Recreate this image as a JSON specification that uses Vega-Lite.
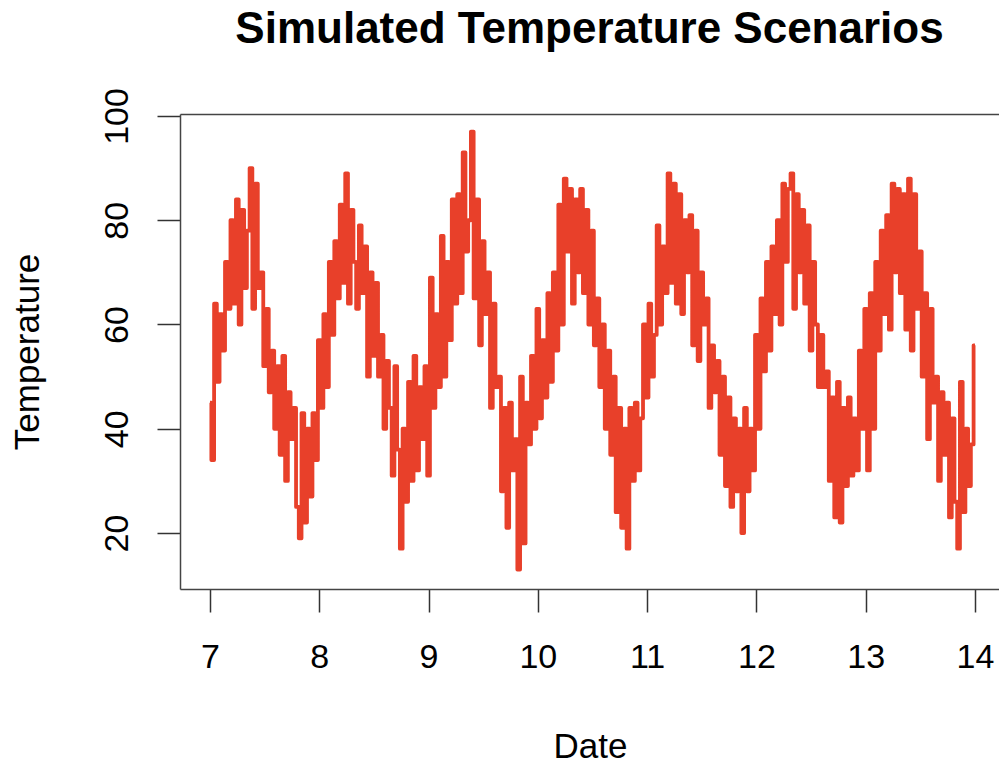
{
  "$schema": "https://vega.github.io/schema/vega-lite/v6.json",
  "width": 819,
  "height": 475,
  "autosize": {"type": "none"},
  "padding": {"left": 180, "top": 114, "right": 0, "bottom": 174},
  "background": "white",
  "config": {"view": {"stroke": null}, "font": "Liberation Sans"},
  "title": {"text": "Simulated Temperature Scenarios", "font": "Liberation Sans", "fontSize": 44, "fontWeight": "bold", "color": "black", "anchor": "middle", "baseline": "alphabetic", "offset": 1},
  "data": {"values": [
    {"date": 7.000, "temp": 45}, {"date": 7.025, "temp": 34}, {"date": 7.050, "temp": 64}, {"date": 7.075, "temp": 49},
    {"date": 7.100, "temp": 62}, {"date": 7.125, "temp": 55}, {"date": 7.150, "temp": 72}, {"date": 7.175, "temp": 63},
    {"date": 7.200, "temp": 80}, {"date": 7.225, "temp": 64}, {"date": 7.250, "temp": 84}, {"date": 7.275, "temp": 60},
    {"date": 7.300, "temp": 82}, {"date": 7.325, "temp": 67}, {"date": 7.350, "temp": 78}, {"date": 7.375, "temp": 90},
    {"date": 7.400, "temp": 63}, {"date": 7.425, "temp": 87}, {"date": 7.450, "temp": 67}, {"date": 7.475, "temp": 70},
    {"date": 7.500, "temp": 52}, {"date": 7.525, "temp": 63}, {"date": 7.550, "temp": 47}, {"date": 7.575, "temp": 55},
    {"date": 7.600, "temp": 40}, {"date": 7.625, "temp": 52}, {"date": 7.650, "temp": 35}, {"date": 7.675, "temp": 54},
    {"date": 7.700, "temp": 30}, {"date": 7.725, "temp": 47}, {"date": 7.750, "temp": 38}, {"date": 7.775, "temp": 44},
    {"date": 7.800, "temp": 25}, {"date": 7.825, "temp": 19}, {"date": 7.850, "temp": 43}, {"date": 7.875, "temp": 22},
    {"date": 7.900, "temp": 40}, {"date": 7.925, "temp": 27}, {"date": 7.950, "temp": 43}, {"date": 7.975, "temp": 34},
    {"date": 8.000, "temp": 57}, {"date": 8.025, "temp": 44}, {"date": 8.050, "temp": 62}, {"date": 8.075, "temp": 48},
    {"date": 8.100, "temp": 72}, {"date": 8.125, "temp": 58}, {"date": 8.150, "temp": 76}, {"date": 8.175, "temp": 65},
    {"date": 8.200, "temp": 83}, {"date": 8.225, "temp": 68}, {"date": 8.250, "temp": 89}, {"date": 8.275, "temp": 64},
    {"date": 8.300, "temp": 82}, {"date": 8.325, "temp": 72}, {"date": 8.350, "temp": 63}, {"date": 8.375, "temp": 79},
    {"date": 8.400, "temp": 66}, {"date": 8.425, "temp": 75}, {"date": 8.450, "temp": 50}, {"date": 8.475, "temp": 70},
    {"date": 8.500, "temp": 54}, {"date": 8.525, "temp": 68}, {"date": 8.550, "temp": 50}, {"date": 8.575, "temp": 58},
    {"date": 8.600, "temp": 40}, {"date": 8.625, "temp": 53}, {"date": 8.650, "temp": 44}, {"date": 8.675, "temp": 31},
    {"date": 8.700, "temp": 52}, {"date": 8.725, "temp": 36}, {"date": 8.750, "temp": 17}, {"date": 8.775, "temp": 40},
    {"date": 8.800, "temp": 26}, {"date": 8.825, "temp": 49}, {"date": 8.850, "temp": 30}, {"date": 8.875, "temp": 54},
    {"date": 8.900, "temp": 32}, {"date": 8.925, "temp": 48}, {"date": 8.950, "temp": 38}, {"date": 8.975, "temp": 52},
    {"date": 9.000, "temp": 31}, {"date": 9.025, "temp": 69}, {"date": 9.050, "temp": 44}, {"date": 9.075, "temp": 62},
    {"date": 9.100, "temp": 48}, {"date": 9.125, "temp": 77}, {"date": 9.150, "temp": 50}, {"date": 9.175, "temp": 72},
    {"date": 9.200, "temp": 57}, {"date": 9.225, "temp": 84}, {"date": 9.250, "temp": 64}, {"date": 9.275, "temp": 85},
    {"date": 9.300, "temp": 66}, {"date": 9.325, "temp": 93}, {"date": 9.350, "temp": 74}, {"date": 9.375, "temp": 80},
    {"date": 9.400, "temp": 97}, {"date": 9.425, "temp": 65}, {"date": 9.450, "temp": 84}, {"date": 9.475, "temp": 56},
    {"date": 9.500, "temp": 76}, {"date": 9.525, "temp": 62}, {"date": 9.550, "temp": 70}, {"date": 9.575, "temp": 44},
    {"date": 9.600, "temp": 64}, {"date": 9.625, "temp": 48}, {"date": 9.650, "temp": 50}, {"date": 9.675, "temp": 28},
    {"date": 9.700, "temp": 44}, {"date": 9.725, "temp": 21}, {"date": 9.750, "temp": 45}, {"date": 9.775, "temp": 32},
    {"date": 9.800, "temp": 38}, {"date": 9.825, "temp": 13}, {"date": 9.850, "temp": 50}, {"date": 9.875, "temp": 18},
    {"date": 9.900, "temp": 45}, {"date": 9.925, "temp": 37}, {"date": 9.950, "temp": 54}, {"date": 9.975, "temp": 40},
    {"date": 10.000, "temp": 63}, {"date": 10.025, "temp": 42}, {"date": 10.050, "temp": 57}, {"date": 10.075, "temp": 46},
    {"date": 10.100, "temp": 66}, {"date": 10.125, "temp": 49}, {"date": 10.150, "temp": 70}, {"date": 10.175, "temp": 55},
    {"date": 10.200, "temp": 83}, {"date": 10.225, "temp": 60}, {"date": 10.250, "temp": 88}, {"date": 10.275, "temp": 74},
    {"date": 10.300, "temp": 86}, {"date": 10.325, "temp": 64}, {"date": 10.350, "temp": 84}, {"date": 10.375, "temp": 70},
    {"date": 10.400, "temp": 86}, {"date": 10.425, "temp": 66}, {"date": 10.450, "temp": 82}, {"date": 10.475, "temp": 60},
    {"date": 10.500, "temp": 78}, {"date": 10.525, "temp": 56}, {"date": 10.550, "temp": 65}, {"date": 10.575, "temp": 48},
    {"date": 10.600, "temp": 60}, {"date": 10.625, "temp": 40}, {"date": 10.650, "temp": 55}, {"date": 10.675, "temp": 35},
    {"date": 10.700, "temp": 50}, {"date": 10.725, "temp": 24}, {"date": 10.750, "temp": 44}, {"date": 10.775, "temp": 21},
    {"date": 10.800, "temp": 40}, {"date": 10.825, "temp": 17}, {"date": 10.850, "temp": 44}, {"date": 10.875, "temp": 30},
    {"date": 10.900, "temp": 45}, {"date": 10.925, "temp": 32}, {"date": 10.950, "temp": 42}, {"date": 10.975, "temp": 60},
    {"date": 11.000, "temp": 46}, {"date": 11.025, "temp": 64}, {"date": 11.050, "temp": 50}, {"date": 11.075, "temp": 58},
    {"date": 11.100, "temp": 79}, {"date": 11.125, "temp": 60}, {"date": 11.150, "temp": 75}, {"date": 11.175, "temp": 66},
    {"date": 11.200, "temp": 89}, {"date": 11.225, "temp": 68}, {"date": 11.250, "temp": 87}, {"date": 11.275, "temp": 64},
    {"date": 11.300, "temp": 85}, {"date": 11.325, "temp": 62}, {"date": 11.350, "temp": 80}, {"date": 11.375, "temp": 70},
    {"date": 11.400, "temp": 81}, {"date": 11.425, "temp": 56}, {"date": 11.450, "temp": 78}, {"date": 11.475, "temp": 53},
    {"date": 11.500, "temp": 70}, {"date": 11.525, "temp": 60}, {"date": 11.550, "temp": 65}, {"date": 11.575, "temp": 44},
    {"date": 11.600, "temp": 56}, {"date": 11.625, "temp": 47}, {"date": 11.650, "temp": 53}, {"date": 11.675, "temp": 35},
    {"date": 11.700, "temp": 50}, {"date": 11.725, "temp": 29}, {"date": 11.750, "temp": 46}, {"date": 11.775, "temp": 25},
    {"date": 11.800, "temp": 42}, {"date": 11.825, "temp": 28}, {"date": 11.850, "temp": 40}, {"date": 11.875, "temp": 20},
    {"date": 11.900, "temp": 44}, {"date": 11.925, "temp": 28}, {"date": 11.950, "temp": 40}, {"date": 11.975, "temp": 32},
    {"date": 12.000, "temp": 58}, {"date": 12.025, "temp": 40}, {"date": 12.050, "temp": 65}, {"date": 12.075, "temp": 51},
    {"date": 12.100, "temp": 72}, {"date": 12.125, "temp": 55}, {"date": 12.150, "temp": 75}, {"date": 12.175, "temp": 62},
    {"date": 12.200, "temp": 80}, {"date": 12.225, "temp": 60}, {"date": 12.250, "temp": 87}, {"date": 12.275, "temp": 72},
    {"date": 12.300, "temp": 86}, {"date": 12.325, "temp": 89}, {"date": 12.350, "temp": 63}, {"date": 12.375, "temp": 85},
    {"date": 12.400, "temp": 70}, {"date": 12.425, "temp": 82}, {"date": 12.450, "temp": 64}, {"date": 12.475, "temp": 79},
    {"date": 12.500, "temp": 55}, {"date": 12.525, "temp": 72}, {"date": 12.550, "temp": 60}, {"date": 12.575, "temp": 48},
    {"date": 12.600, "temp": 58}, {"date": 12.625, "temp": 48}, {"date": 12.650, "temp": 51}, {"date": 12.675, "temp": 30},
    {"date": 12.700, "temp": 46}, {"date": 12.725, "temp": 23}, {"date": 12.750, "temp": 49}, {"date": 12.775, "temp": 22},
    {"date": 12.800, "temp": 44}, {"date": 12.825, "temp": 29}, {"date": 12.850, "temp": 46}, {"date": 12.875, "temp": 31},
    {"date": 12.900, "temp": 42}, {"date": 12.925, "temp": 32}, {"date": 12.950, "temp": 55}, {"date": 12.975, "temp": 40},
    {"date": 13.000, "temp": 63}, {"date": 13.025, "temp": 32}, {"date": 13.050, "temp": 66}, {"date": 13.075, "temp": 40},
    {"date": 13.100, "temp": 72}, {"date": 13.125, "temp": 55}, {"date": 13.150, "temp": 78}, {"date": 13.175, "temp": 62},
    {"date": 13.200, "temp": 81}, {"date": 13.225, "temp": 59}, {"date": 13.250, "temp": 87}, {"date": 13.275, "temp": 70},
    {"date": 13.300, "temp": 86}, {"date": 13.325, "temp": 66}, {"date": 13.350, "temp": 85}, {"date": 13.375, "temp": 59},
    {"date": 13.400, "temp": 88}, {"date": 13.425, "temp": 55}, {"date": 13.450, "temp": 85}, {"date": 13.475, "temp": 63},
    {"date": 13.500, "temp": 74}, {"date": 13.525, "temp": 50}, {"date": 13.550, "temp": 66}, {"date": 13.575, "temp": 38},
    {"date": 13.600, "temp": 63}, {"date": 13.625, "temp": 45}, {"date": 13.650, "temp": 50}, {"date": 13.675, "temp": 30},
    {"date": 13.700, "temp": 47}, {"date": 13.725, "temp": 35}, {"date": 13.750, "temp": 45}, {"date": 13.775, "temp": 23},
    {"date": 13.800, "temp": 42}, {"date": 13.825, "temp": 26}, {"date": 13.850, "temp": 17}, {"date": 13.875, "temp": 49},
    {"date": 13.900, "temp": 24}, {"date": 13.925, "temp": 40}, {"date": 13.950, "temp": 29}, {"date": 13.975, "temp": 37},
    {"date": 14.000, "temp": 56}
  ]},
  "layer": [
    {
      "mark": {"type": "line", "color": "#E8402A", "strokeWidth": 3.8, "strokeJoin": "round", "strokeCap": "butt", "interpolate": "step"},
      "encoding": {
        "x": {"field": "date", "type": "quantitative", "sort": null,
          "scale": {"domain": [6.7255, 14.22], "nice": false, "zero": false},
          "axis": {"values": [7, 8, 9, 10, 11, 12, 13, 14], "grid": false, "tickSize": 23, "tickColor": "#333333", "tickWidth": 1.5,
            "domainColor": "#444444", "domainWidth": 1.5, "labelFontSize": 34, "labelFont": "Liberation Sans", "labelColor": "black",
            "labelBaseline": "alphabetic", "labelPadding": 55, "labelFlush": false, "labelOverlap": false,
            "title": "Date", "titleFont": "Liberation Sans", "titleFontSize": 35, "titleFontWeight": "normal", "titleColor": "black",
            "titleBaseline": "alphabetic", "titleAlign": "center", "titleX": 410, "titleY": 168}},
        "y": {"field": "temp", "type": "quantitative",
          "scale": {"domain": [9.26, 100.38], "nice": false, "zero": false},
          "axis": {"values": [20, 40, 60, 80, 100], "grid": false, "tickSize": 23, "tickColor": "#333333", "tickWidth": 1.5,
            "domainColor": "#444444", "domainWidth": 1.5, "labelFontSize": 34, "labelFont": "Liberation Sans", "labelColor": "black",
            "labelAngle": 270, "labelAlign": "center", "labelBaseline": "alphabetic", "labelPadding": 30, "labelFlush": false, "labelOverlap": false,
            "title": "Temperature", "titleFont": "Liberation Sans", "titleFontSize": 35, "titleFontWeight": "normal", "titleColor": "black",
            "titleAngle": 270, "titleBaseline": "alphabetic", "titleAlign": "center", "titleX": -142, "titleY": 237.5}}
      }
    },
    {
      "mark": {"type": "line", "opacity": 0},
      "encoding": {
        "x": {"field": "date", "type": "quantitative",
          "axis": {"orient": "top", "labels": false, "ticks": false, "grid": false, "title": null, "domainColor": "#444444", "domainWidth": 1.5}},
        "y": {"field": "temp", "type": "quantitative", "axis": null}
      }
    }
  ],
  "resolve": {"axis": {"x": "independent", "y": "independent"}}
}
